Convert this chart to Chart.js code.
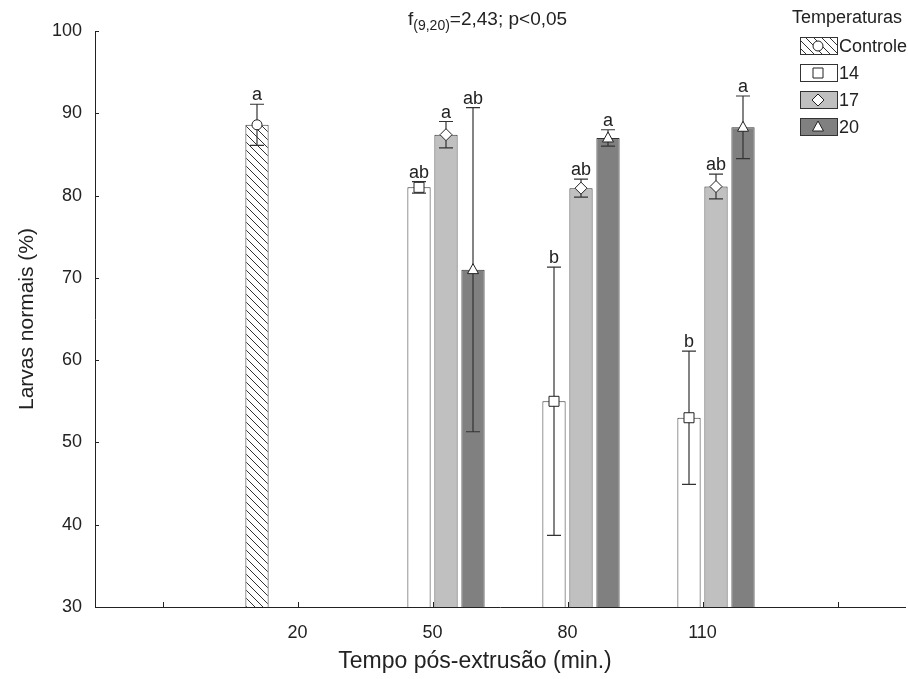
<!DOCTYPE html>
<html>
<head>
<meta charset="utf-8">
<script src="https://cdn.jsdelivr.net/npm/chart.js@4.4.1/dist/chart.umd.min.js"></script>
<style>
  html, body { margin: 0; padding: 0; background: #fff; }
  #wrap { width: 908px; height: 679px; }
</style>
</head>
<body>
<div id="wrap"><canvas id="chart"></canvas></div>
<script>
// Categories (empty slots at both ends keep the axis spacing of the original)
const categories = ['', '20', '50', '80', '110', ''];
const seriesNames = ['Controle', '14', '17', '20'];

// Means (%) per category
const controleMeans = [null, 88.6, null, null, null, null];
const t14Means = [null, null, 81.0, 55.0, 53.0, null];
const t17Means = [null, null, 87.4, 80.9, 81.1, null];
const t20Means = [null, null, 71.0, 87.0, 88.3, null];

// Error bar half-lengths
const controleErr = [null, 2.5, null, null, null, null];
const t14Err = [null, null, 0.7, 16.3, 8.1, null];
const t17Err = [null, null, 1.6, 1.1, 1.5, null];
const t20Err = [null, null, 19.7, 1.0, 3.8, null];

// Significance letters
const controleLetters = [null, 'a', null, null, null, null];
const t14Letters = [null, null, 'ab', 'b', 'b', null];
const t17Letters = [null, null, 'a', 'ab', 'ab', null];
const t20Letters = [null, null, 'ab', 'a', 'a', null];

const yTicks = [30, 40, 50, 60, 70, 80, 90, 100];

const FONT = '"Liberation Sans", Arial, sans-serif';
const INK = '#222';

// hatch pattern for "Controle"
function makeHatch() {
    const s = 8;
    const c = document.createElement('canvas');
    c.width = s; c.height = s;
    const g = c.getContext('2d');
    g.fillStyle = '#fff';
    g.fillRect(0, 0, s, s);
    g.strokeStyle = '#333';
    g.lineWidth = 1;
    g.beginPath();
    g.moveTo(-1, -1); g.lineTo(s + 1, s + 1);
    g.moveTo(-1, s - 1); g.lineTo(1, s + 1);
    g.moveTo(s - 1, -1); g.lineTo(s + 1, 1);
    g.stroke();
    return g.createPattern(c, 'repeat');
}
const hatch = makeHatch();

const fills = [hatch, '#ffffff', '#c0c0c0', '#808080'];
const markers = ['circle', 'square', 'diamond', 'triangle'];
const errs = [controleErr, t14Err, t17Err, t20Err];
const letters = [controleLetters, t14Letters, t17Letters, t20Letters];

function drawMarker(ctx, type, x, y) {
    ctx.save();
    ctx.fillStyle = '#fff';
    ctx.strokeStyle = '#222';
    ctx.lineWidth = 1;
    ctx.beginPath();
    if (type === 'circle') {
        ctx.arc(x, y, 5, 0, Math.PI * 2);
    } else if (type === 'square') {
        ctx.rect(x - 5, y - 5, 10, 10);
    } else if (type === 'diamond') {
        ctx.moveTo(x, y - 6); ctx.lineTo(x + 6, y); ctx.lineTo(x, y + 6); ctx.lineTo(x - 6, y);
        ctx.closePath();
    } else {
        ctx.moveTo(x, y - 6); ctx.lineTo(x + 5.5, y + 4); ctx.lineTo(x - 5.5, y + 4);
        ctx.closePath();
    }
    ctx.fill();
    ctx.stroke();
    ctx.restore();
}

// inward tick marks on both axes
const tickMarks = {
    id: 'tickMarks',
    beforeDatasetsDraw(chart) {
        const { ctx, scales: { x, y } } = chart;
        ctx.save();
        ctx.strokeStyle = INK;
        ctx.lineWidth = 1;
        ctx.beginPath();
        categories.forEach((c, i) => {
            const px = Math.round(x.getPixelForValue(i)) + 0.5;
            ctx.moveTo(px, y.bottom);
            ctx.lineTo(px, y.bottom - 5);
        });
        yTicks.forEach(v => {
            const py = Math.round(y.getPixelForValue(v)) + 0.5;
            ctx.moveTo(x.left, py);
            ctx.lineTo(x.left + 4, py);
        });
        ctx.stroke();
        ctx.restore();
    }
};

// error bars, markers and letters on top of the bars
const errorBars = {
    id: 'errorBars',
    afterDatasetsDraw(chart) {
        const { ctx, scales: { y } } = chart;
        chart.data.datasets.forEach((ds, di) => {
            const meta = chart.getDatasetMeta(di);
            meta.data.forEach((bar, i) => {
                const v = ds.data[i];
                if (v == null) return;
                const e = errs[di][i];
                const yTop = y.getPixelForValue(v + e);
                const yBot = y.getPixelForValue(v - e);
                ctx.save();
                ctx.strokeStyle = '#333';
                ctx.lineWidth = 1.2;
                ctx.beginPath();
                ctx.moveTo(bar.x, yTop); ctx.lineTo(bar.x, yBot);
                ctx.moveTo(bar.x - 7, yTop); ctx.lineTo(bar.x + 7, yTop);
                ctx.moveTo(bar.x - 7, yBot); ctx.lineTo(bar.x + 7, yBot);
                ctx.stroke();
                ctx.restore();
                drawMarker(ctx, markers[di], bar.x, bar.y);
                const l = letters[di][i];
                if (l) {
                    ctx.save();
                    ctx.fillStyle = INK;
                    ctx.font = '18px ' + FONT;
                    ctx.textAlign = 'center';
                    ctx.textBaseline = 'alphabetic';
                    ctx.fillText(l, bar.x, yTop - 4);
                    ctx.restore();
                }
            });
        });
    }
};

// statistic line, axis titles and legend
const decorations = {
    id: 'decorations',
    afterDraw(chart) {
        const { ctx, chartArea } = chart;
        ctx.save();
        ctx.fillStyle = INK;
        ctx.textBaseline = 'alphabetic';

        // f(9,20)=2,43; p<0,05
        let x = 408;
        ctx.font = '19px ' + FONT;
        ctx.fillText('f', x, 25);
        x += ctx.measureText('f').width;
        ctx.font = '14px ' + FONT;
        ctx.fillText('(9,20)', x, 30);
        x += ctx.measureText('(9,20)').width;
        ctx.font = '19px ' + FONT;
        ctx.fillText('=2,43; p<0,05', x, 25);

        // axis titles
        ctx.textAlign = 'center';
        ctx.textBaseline = 'middle';
        ctx.font = '23px ' + FONT;
        ctx.fillText('Tempo pós-extrusão (min.)', 475, 662);
        ctx.save();
        ctx.font = '21px ' + FONT;
        ctx.translate(27, (chartArea.top + chartArea.bottom) / 2);
        ctx.rotate(-Math.PI / 2);
        ctx.fillText('Larvas normais (%)', 0, 0);
        ctx.restore();

        // legend
        ctx.font = '18px ' + FONT;
        ctx.textAlign = 'left';
        ctx.fillText('Temperaturas', 792, 18);
        seriesNames.forEach((name, i) => {
            const cy = 46 + i * 27;
            ctx.fillStyle = fills[i];
            ctx.fillRect(800, cy - 9, 37, 18);
            ctx.strokeStyle = '#333';
            ctx.lineWidth = 1;
            ctx.strokeRect(800.5, cy - 8.5, 37, 17);
            drawMarker(ctx, markers[i], 818, cy);
            ctx.fillStyle = INK;
            ctx.fillText(name, 839, cy + 1);
        });
        ctx.restore();
    }
};

const makeSet = (label, data, i) => ({
    label: label,
    data: data,
    backgroundColor: fills[i],
    borderColor: '#333',
    borderWidth: 1,
    borderSkipped: 'bottom',
    categoryPercentage: 0.8,
    barPercentage: 0.86
});

new Chart(document.getElementById('chart'), {
    type: 'bar',
    data: {
        labels: categories,
        datasets: [
            makeSet(seriesNames[0], controleMeans, 0),
            makeSet(seriesNames[1], t14Means, 1),
            makeSet(seriesNames[2], t17Means, 2),
            makeSet(seriesNames[3], t20Means, 3)
        ]
    },
    options: {
        responsive: true,
        maintainAspectRatio: false,
        animation: false,
        devicePixelRatio: 1,
        layout: { padding: { top: 31, right: 3, left: 0, bottom: 0 } },
        plugins: {
            legend: { display: false },
            tooltip: { enabled: false }
        },
        scales: {
            x: {
                grid: { display: false, drawTicks: false },
                border: { display: true, color: INK, width: 1 },
                ticks: { color: INK, font: { family: FONT, size: 18 }, padding: 15, autoSkip: false, maxRotation: 0 },
                afterFit(scale) { scale.height = 72; }
            },
            y: {
                min: 30,
                max: 100,
                grid: { display: false, drawTicks: false },
                border: { display: true, color: INK, width: 1 },
                ticks: { stepSize: 10, color: INK, font: { family: FONT, size: 18 }, padding: 13 },
                afterFit(scale) { scale.width = 95; }
            }
        }
    },
    plugins: [tickMarks, errorBars, decorations]
});
</script>
</body>
</html>
